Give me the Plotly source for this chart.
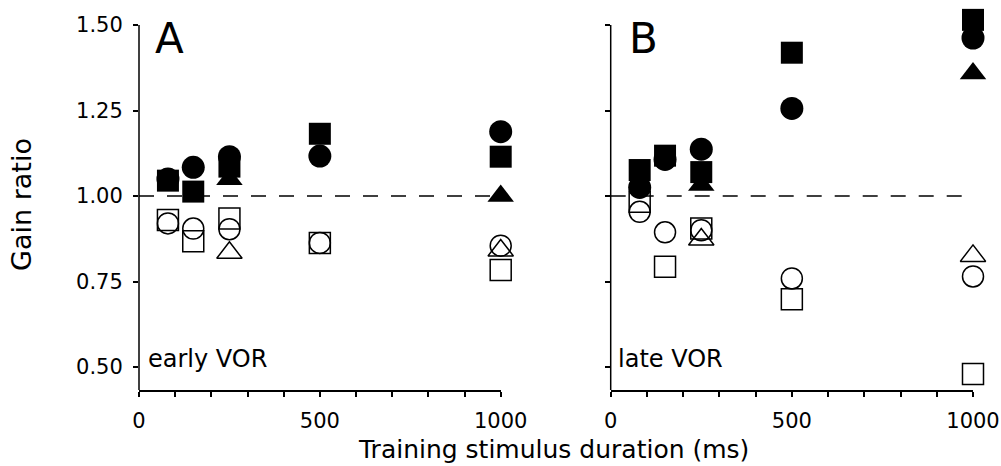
import plotly.graph_objects as go

# ---------------- data ----------------
durations = [80, 150, 250, 500, 1000]

early_filled_square = [1.045, 1.013, 1.086, 1.182, 1.115]
early_filled_circle = [1.050, 1.084, 1.115, 1.117, 1.188]
early_filled_triangle = [None, None, 1.049, None, 1.000]
early_open_square = [0.930, 0.868, 0.934, 0.863, 0.784]
early_open_circle = [0.920, 0.905, 0.903, 0.863, 0.855]
early_open_triangle = [None, None, 0.834, None, 0.841]

late_filled_square = [1.076, 1.118, 1.070, 1.419, 1.515]
late_filled_circle = [1.025, 1.107, 1.137, 1.256, 1.462]
late_filled_triangle = [None, None, 1.032, None, 1.358]
late_open_square = [0.983, 0.793, 0.905, 0.698, 0.480]
late_open_circle = [0.954, 0.894, 0.900, 0.759, 0.765]
late_open_triangle = [None, None, 0.873, None, 0.825]

y_ticks = [0.50, 0.75, 1.00, 1.25, 1.50]
y_tick_labels = ["0.50", "0.75", "1.00", "1.25", "1.50"]
x_ticks = list(range(0, 1001, 100))
x_tick_labels = ["0", "", "", "", "", "500", "", "", "", "", "1000"]

# ---------------- layout helpers ----------------
W, H = 1001, 466
FONT = "DejaVu Sans"
Y_LO, Y_AX_TOP, Y_RANGE_TOP = 0.433, 1.5, 1.53
PX_BOTTOM, PX_AX_TOP = 390.0, 25.0
px_per_unit = (PX_BOTTOM - PX_AX_TOP) / (Y_AX_TOP - Y_LO)
PX_TOP = PX_AX_TOP - (Y_RANGE_TOP - Y_AX_TOP) * px_per_unit

A_LEFT, A_RIGHT = 139.0, 500.7
B_LEFT, B_RIGHT = 610.7, 973.0


def fx(p):
    return p / W


def fy(p):
    return 1 - p / H


fig = go.Figure()


def add_panel(xa, ya, fsq, fci, ftr, osq, oci, otr):
    common = dict(x=durations, mode="markers", xaxis=xa, yaxis=ya,
                  showlegend=False, cliponaxis=False, hoverinfo="skip")
    open_line = dict(color="black", width=1.5)
    fig.add_trace(go.Scatter(y=osq, marker=dict(symbol="square-open", size=21,
                                                color="black", line=open_line), **common))
    fig.add_trace(go.Scatter(y=oci, marker=dict(symbol="circle-open", size=21,
                                                color="black", line=open_line), **common))
    fig.add_trace(go.Scatter(y=otr, marker=dict(symbol="triangle-up-open", size=22,
                                                color="black", line=open_line), **common))
    fig.add_trace(go.Scatter(y=fci, marker=dict(symbol="circle", size=23,
                                                color="black", line=dict(width=0)), **common))
    fig.add_trace(go.Scatter(y=ftr, marker=dict(symbol="triangle-up", size=23,
                                                color="black", line=dict(width=0)), **common))
    fig.add_trace(go.Scatter(y=fsq, marker=dict(symbol="square", size=22,
                                                color="black", line=dict(width=0)), **common))


add_panel("x", "y", early_filled_square, early_filled_circle, early_filled_triangle,
          early_open_square, early_open_circle, early_open_triangle)
add_panel("x2", "y2", late_filled_square, late_filled_circle, late_filled_triangle,
          late_open_square, late_open_circle, late_open_triangle)

xcommon = dict(range=[0, 1000], showline=True, linecolor="black", linewidth=1.5,
               ticks="outside", ticklen=5, tickwidth=1.5, tickcolor="black",
               tickvals=x_ticks, ticktext=x_tick_labels, showgrid=False, zeroline=False,
               automargin=False,
               tickfont=dict(family=FONT, size=21, color="black"), ticklabelstandoff=6)
ycommon = dict(range=[Y_LO, Y_RANGE_TOP], showline=False,
               ticks="outside", ticklen=5, tickwidth=1.5, tickcolor="black",
               tickvals=y_ticks, ticktext=y_tick_labels, showgrid=False, zeroline=False,
               automargin=False,
               tickfont=dict(family=FONT, size=21, color="black"),
               domain=[fy(PX_BOTTOM), fy(PX_TOP)])

dash_line = dict(color="black", width=1.5, dash="15px,13px")
axis_line = dict(color="black", width=1.5)

fig.update_layout(
    width=W, height=H,
    margin=dict(l=0, r=0, t=0, b=0, autoexpand=False),
    paper_bgcolor="white", plot_bgcolor="white",
    xaxis=dict(domain=[fx(A_LEFT), fx(A_RIGHT)], anchor="y", **xcommon),
    xaxis2=dict(domain=[fx(B_LEFT), fx(B_RIGHT)], anchor="y2", **xcommon),
    yaxis=dict(anchor="x", ticklabelstandoff=6, **ycommon),
    yaxis2=dict(anchor="x2", showticklabels=False, **ycommon),
    shapes=[
        dict(type="line", xref="x", yref="y", x0=0, x1=1000, y0=1.0, y1=1.0,
             line=dash_line, layer="below"),
        dict(type="line", xref="x2", yref="y2", x0=0, x1=1000, y0=1.0, y1=1.0,
             line=dash_line, layer="below"),
        dict(type="line", xref="paper", yref="paper", x0=fx(A_LEFT), x1=fx(A_LEFT),
             y0=fy(PX_BOTTOM), y1=fy(PX_AX_TOP), line=axis_line),
        dict(type="line", xref="paper", yref="paper", x0=fx(B_LEFT), x1=fx(B_LEFT),
             y0=fy(PX_BOTTOM), y1=fy(PX_AX_TOP), line=axis_line),
    ],
    annotations=[
        dict(text="A", xref="paper", yref="paper", x=fx(153), y=fy(12),
             xanchor="left", yanchor="top", showarrow=False,
             font=dict(family=FONT, size=42, color="black")),
        dict(text="B", xref="paper", yref="paper", x=fx(627), y=fy(12),
             xanchor="left", yanchor="top", showarrow=False,
             font=dict(family=FONT, size=42, color="black")),
        dict(text="early VOR", xref="paper", yref="paper", x=fx(146), y=fy(359),
             xanchor="left", yanchor="middle", showarrow=False,
             font=dict(family=FONT, size=24, color="black")),
        dict(text="late VOR", xref="paper", yref="paper", x=fx(616), y=fy(359),
             xanchor="left", yanchor="middle", showarrow=False,
             font=dict(family=FONT, size=24, color="black")),
        dict(text="Gain ratio", xref="paper", yref="paper", x=fx(21), y=fy(205),
             xanchor="center", yanchor="middle", textangle=-90, showarrow=False,
             font=dict(family=FONT, size=27, color="black")),
        dict(text="Training stimulus duration (ms)", xref="paper", yref="paper",
             x=fx(553), y=0, xanchor="center", yanchor="bottom", showarrow=False,
             font=dict(family=FONT, size=25, color="black")),
    ],
)

fig.write_html("out.html")
